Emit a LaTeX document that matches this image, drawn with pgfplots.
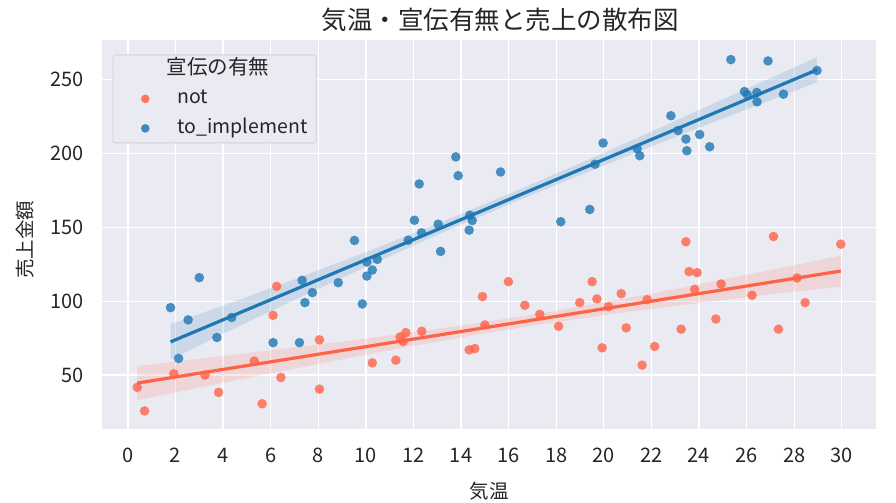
\documentclass[border=0pt]{standalone}
\usepackage{fontspec}
\setmainfont{Noto Sans CJK JP}
\usepackage{pgfplots}
\pgfplotsset{compat=1.18}
\definecolor{axisbg}{HTML}{EAEAF2}
\definecolor{txt}{HTML}{262626}
\definecolor{redc}{HTML}{FF6347}
\definecolor{bluec}{HTML}{1F77B4}
\definecolor{legedge}{HTML}{D0D0D8}
\begin{document}
\begin{tikzpicture}[x=1bp,y=1bp]
\path[use as bounding box] (0,0) rectangle (896,503);
\begin{axis}[
  at={(102bp,74bp)}, anchor=south west,
  scale only axis, width=774bp, height=389bp,
  xmin=-1.09, xmax=31.44, ymin=13.5, ymax=277,
  xtick={0,2,...,30}, ytick={50,100,150,200,250},
  axis background/.style={fill=axisbg},
  axis line style={draw=none},
  major tick length=0pt,
  grid=major,
  major grid style={white, line width=1.3bp},
  /pgf/number format/assume math mode=true,
  ticklabel style={font=\fontsize{20bp}{24bp}\selectfont, text=txt, inner sep=0pt},
  xticklabel style={anchor=base, yshift=-34bp},
  yticklabel style={anchor=east, xshift=-18bp},
  legend style={at={(0,1)}, anchor=north west, xshift=10.5bp, yshift=-14.5bp,
    fill=axisbg, draw=legedge, rounded corners=3bp, line width=0.8bp,
    font=\fontsize{19.5bp}{24bp}\selectfont, text=txt,
    inner xsep=7bp, inner ysep=2.5bp, row sep=5.5bp,
    nodes={inner sep=2bp, text height=15bp, text depth=5bp}},
  legend cell align=left,
  legend image code/.code={\path (0bp,0bp); \draw[mark repeat=2,mark phase=2,#1] plot coordinates {(8bp,0bp) (25bp,0bp) (42bp,0bp)};},
]
% legend
\addlegendimage{only marks, mark=*, mark size=4.3bp, mark options={draw opacity=0, fill opacity=0}}
\addlegendentry{\hspace*{15bp}\fontsize{20.5bp}{24bp}\selectfont 宣伝の有無}
\addlegendimage{only marks, mark=*, mark size=4.3bp, mark options={draw=redc, fill=redc, fill opacity=0.85, draw opacity=0}}
\addlegendentry{\hspace*{26bp}not}
\addlegendimage{only marks, mark=*, mark size=4.3bp, mark options={draw=bluec, fill=bluec, fill opacity=0.85, draw opacity=0}}
\addlegendentry{\hspace*{26bp}to\_implement}

% red scatter
\addplot[forget plot, only marks, mark=*, mark size=4.8bp, mark options={draw=redc, fill=redc, fill opacity=0.8, draw opacity=0}] coordinates {
(0.39,41.7) (0.70,25.7) (1.93,50.9) (3.24,50.0) (3.81,38.3) (5.31,59.5) (5.64,30.6)
(6.25,110.1) (6.10,90.5) (6.43,48.4) (8.05,73.9) (8.05,40.5) (10.27,58.3) (11.26,60.1)
(11.44,75.9) (11.57,72.8) (11.68,78.8) (12.35,79.7) (14.34,67.1) (14.58,68.0) (14.90,103.2)
(15.00,84.0) (15.99,113.3) (16.68,97.3) (17.31,91.2) (18.10,83.1) (18.99,99.1) (19.51,113.3)
(19.71,101.6) (19.93,68.5) (20.20,96.4) (20.73,105.2) (20.94,82.0) (21.61,56.8) (21.82,101.1)
(22.14,69.4) (23.25,81.1) (23.45,140.3) (23.58,120.1) (23.92,119.4) (23.82,108.1) (24.71,88.0)
(24.93,111.7) (26.23,104.1) (27.13,143.9) (27.34,81.1) (28.12,115.8) (28.46,99.1) (29.96,138.7)
};
% red band
\addplot[forget plot, draw=none, fill=redc, fill opacity=0.15] coordinates {
(0.39,56.2) (3,61.0) (6,66.8) (9,72.7) (12,79.0) (15,85.9) (18,93.6) (21,102.2) (24,111.5) (27,121.1) (29.96,131.0)
(29.96,110.0) (27,104.7) (24,98.9) (21,92.8) (18,86.0) (15,78.3) (12,69.8) (9,60.7) (6,51.2) (3,41.6) (0.39,33.0)
} -- cycle;
% blue scatter
\addplot[forget plot, only marks, mark=*, mark size=4.8bp, mark options={draw=bluec, fill=bluec, fill opacity=0.8, draw opacity=0}] coordinates {
(1.79,95.7) (2.13,61.3) (2.53,87.4) (3.00,116.0) (3.74,75.5) (4.36,89.0) (6.10,72.0)
(7.21,72.0) (7.32,114.2) (7.44,99.1) (7.75,105.9) (8.84,112.6) (9.52,141.2) (9.85,98.2)
(10.04,117.1) (10.04,126.6) (10.27,121.2) (10.48,128.4) (11.78,141.4) (12.04,154.9) (12.24,179.5)
(12.34,146.4) (13.04,152.2) (13.14,133.8) (13.78,197.8) (13.88,185.1) (14.37,158.3) (14.47,154.7)
(14.34,148.2) (15.66,187.6) (18.19,153.9) (19.41,162.2) (19.63,192.8) (19.97,207.2) (21.40,203.4)
(21.51,198.6) (22.82,225.7) (23.12,215.7) (23.45,209.9) (23.49,202.0) (24.03,213.0) (24.45,204.7)
(25.34,263.7) (25.91,242.1) (26.03,239.9) (26.43,241.4) (26.44,235.1) (26.90,262.8) (27.55,240.3)
(28.96,256.3)
};
% blue band
\addplot[forget plot, draw=none, fill=bluec, fill opacity=0.15] coordinates {
(1.79,84.5) (4,97.0) (7,114.9) (10,133.3) (13,152.5) (16,172.6) (19,193.5) (22,214.9) (25,236.8) (28.96,265.3)
(28.96,248.3) (25,223.8) (22,204.9) (19,185.5) (16,165.6) (13,144.9) (10,123.3) (7,100.9) (4,78.0) (1.79,60.5)
} -- cycle;
% regression lines
\addplot[forget plot, redc, line width=3.2bp] coordinates {(0.39,44.6) (29.96,120.5)};
\addplot[forget plot, bluec, line width=3.2bp] coordinates {(1.79,72.5) (28.96,256.8)};
\end{axis}
\node[text=txt, font=\fontsize{25.5bp}{29bp}\selectfont] at (500,483) {気温・宣伝有無と売上の散布図};
\node[text=txt, font=\fontsize{19.5bp}{24bp}\selectfont] at (489,12) {気温};
\node[text=txt, font=\fontsize{19.5bp}{24bp}\selectfont, rotate=90] at (25,263) {売上金額};
\end{tikzpicture}
\end{document}
